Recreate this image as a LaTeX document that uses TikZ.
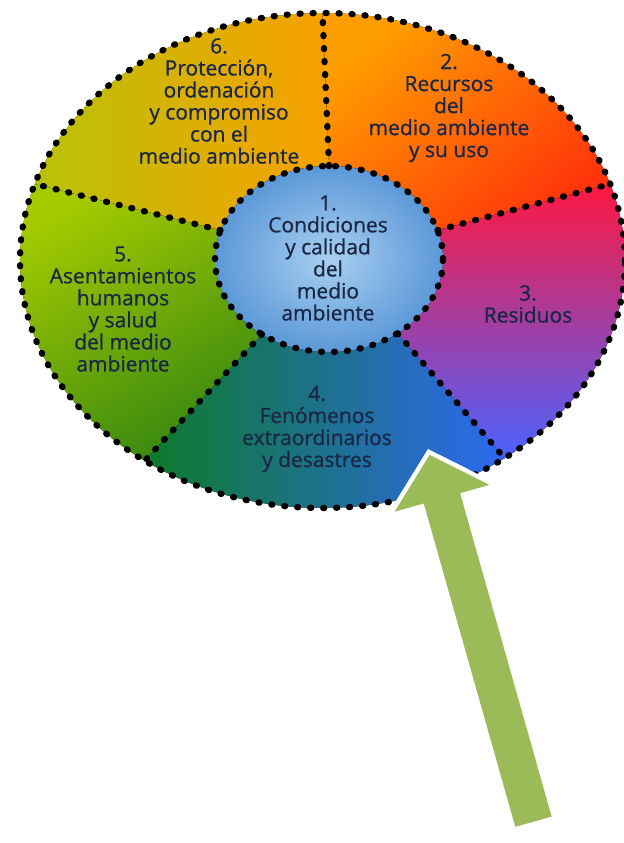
\documentclass[tikz,border=0pt]{standalone}
\usepackage{fontspec}
\setmainfont{Open Sans}
\newfontfamily\lblfont[FakeBold=0.8]{Open Sans}
\usetikzlibrary{calc, shapes.arrows, shadows}

\definecolor{txtnavy}{HTML}{1A2744}
\definecolor{arrowgreen}{HTML}{9BBB59}
\definecolor{coreIn}{HTML}{A9D0F0}
\definecolor{coreOut}{HTML}{5C98D8}

\begin{document}
\begin{tikzpicture}[x=0.3mm, y=0.3mm,
    dots/.style={black, line width=1.9mm, dash pattern=on 0.3mm off 3.6mm, line cap=round},
    seglabel/.style={align=center, inner sep=0pt, text=txtnavy, font=\lblfont\fontsize{17.9}{18.8}\selectfont},
    seg6/.style={left color={rgb,255:red,184;green,194;blue,8}, right color={rgb,255:red,248;green,160;blue,0}},
    seg2/.style={top color={rgb,255:red,255;green,158;blue,0}, bottom color={rgb,255:red,255;green,52;blue,10}, shading angle=40},
    seg3/.style={top color={rgb,255:red,255;green,24;blue,64}, middle color={rgb,255:red,210;green,64;blue,196}, bottom color={rgb,255:red,74;green,98;blue,255}},
    seg4/.style={left color={rgb,255:red,14;green,122;blue,42}, middle color={rgb,255:red,27;green,111;blue,144}, right color={rgb,255:red,46;green,104;blue,242}},
    seg5/.style={top color={rgb,255:red,166;green,204;blue,0}, bottom color={rgb,255:red,56;green,136;blue,16}, shading angle=30},
    bigarrow/.style={single arrow, draw=white, line width=1.3mm, fill=arrowgreen, inner xsep=0pt, inner ysep=0.57cm,
        minimum height=11.6cm, single arrow head extend=1.02cm, single arrow tip angle=95,
        drop shadow={shadow xshift=1.4pt, shadow yshift=-1.4pt, opacity=0.3}}
]
% page
\fill[white] (0,0) rectangle (624,-843);
\useasboundingbox (0,0) rectangle (624,-843);

% centres of the wheel and of the core
\coordinate (O) at (322.5,-260.5);
\coordinate (I) at (329,-259);

% ends of the dividers
\coordinate (o90) at ($(O)+(90:302.5 and 247.5)$);
\coordinate (o18) at ($(O)+(18:302.5 and 247.5)$);
\coordinate (o-53) at ($(O)+(-53:302.5 and 247.5)$);
\coordinate (o-126) at ($(O)+(-126:302.5 and 247.5)$);
\coordinate (o162) at ($(O)+(162:302.5 and 247.5)$);
\coordinate (i90) at ($(I)+(90:114 and 93)$);
\coordinate (i18) at ($(I)+(18:114 and 93)$);
\coordinate (i-53) at ($(I)+(-53:114 and 93)$);
\coordinate (i-126) at ($(I)+(-126:114 and 93)$);
\coordinate (i162) at ($(I)+(162:114 and 93)$);

% segments
\fill[seg2] (o18) arc[start angle=18, end angle=90, x radius=302.5, y radius=247.5] -- (i90) arc[start angle=90, end angle=18, x radius=114, y radius=93] -- cycle;
\fill[seg6] (o90) arc[start angle=90, end angle=162, x radius=302.5, y radius=247.5] -- (i162) arc[start angle=162, end angle=90, x radius=114, y radius=93] -- cycle;
\fill[seg5] (o162) arc[start angle=162, end angle=234, x radius=302.5, y radius=247.5] -- (i-126) arc[start angle=234, end angle=162, x radius=114, y radius=93] -- cycle;
\fill[seg4] (o-126) arc[start angle=-126, end angle=-53, x radius=302.5, y radius=247.5] -- (i-53) arc[start angle=-53, end angle=-126, x radius=114, y radius=93] -- cycle;
\fill[seg3] (o-53) arc[start angle=-53, end angle=18, x radius=302.5, y radius=247.5] -- (i18) arc[start angle=18, end angle=-53, x radius=114, y radius=93] -- cycle;
\fill[inner color=coreIn, outer color=coreOut] (I) ellipse[x radius=114, y radius=93];

% dotted borders
\draw[dots] (O) ellipse[x radius=302.5, y radius=247.5];
\draw[dots] (I) ellipse[x radius=114, y radius=93];
\draw[dots] (i90) -- (o90);
\draw[dots] (i18) -- (o18);
\draw[dots] (i-53) -- (o-53);
\draw[dots] (i-126) -- (o-126);
\draw[dots] (i162) -- (o162);

% labels
\node[seglabel] (condiciones) at (328,-258) {1.\\Condiciones\\y calidad\\del\\medio\\ambiente};
\node[seglabel] (recursos) at (449,-108) {2.\\Recursos\\del\\medio ambiente\\y su uso};
\node[seglabel] (residuos) at (528,-304) {3.\\Residuos};
\node[seglabel] (fenomenos) at (317,-429) {4.\\Fenómenos\\extraordinarios\\y desastres};
\node[seglabel] (asentamientos) at (123,-309) {5.\\Asentamientos\\humanos\\y salud\\del medio\\ambiente};
\node[seglabel] (proteccion) at (219,-101) {6.\\Protección,\\ordenación\\y compromiso\\con el\\medio ambiente};

% pointer
\node[bigarrow, rotate=105.8, anchor=tip] (pointer) at (428,-449) {};
\end{tikzpicture}
\end{document}
